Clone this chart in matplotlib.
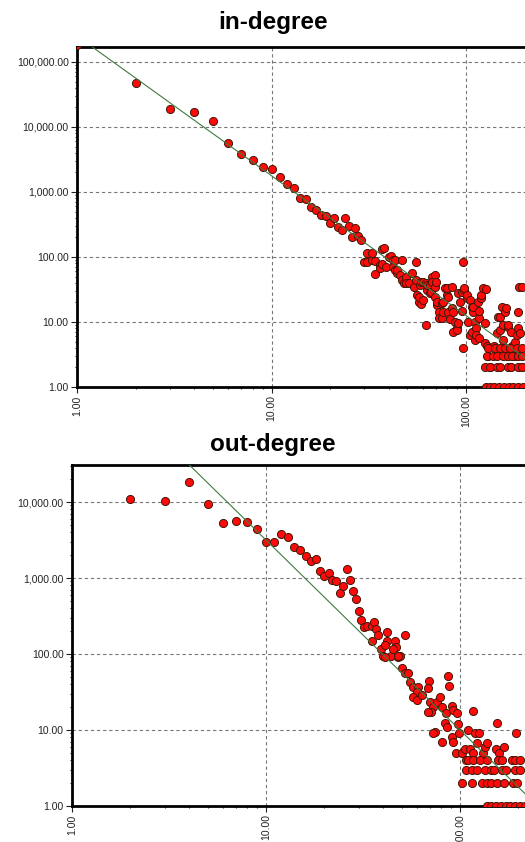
import numpy as np
import matplotlib.pyplot as plt
from matplotlib.ticker import FuncFormatter, FixedLocator, LogLocator, NullFormatter

plt.rcParams['font.family'] = ['Liberation Sans', 'DejaVu Sans']

# in-degree: degree vs number of nodes
in_deg = [1, 2, 3, 4, 5, 6, 7, 8, 9, 10, 11, 12, 13, 14, 15, 16, 17, 18, 19, 20,
          21, 22, 23, 24, 25, 26, 27, 28, 29,
          30, 31, 31, 33, 33, 34, 34, 36, 36, 37, 37, 38, 39, 40, 41, 42, 42, 43, 43, 44,
          44, 46, 47, 47, 48, 49, 49, 51, 53, 54, 55, 55, 56, 57, 57, 58, 59, 59, 60, 60,
          62, 62, 63, 63, 65, 65, 66, 67, 67, 69, 69, 69, 70, 71, 71, 73, 73, 75, 75, 76,
          76, 78, 80, 80, 81, 81, 83, 85, 85, 86, 86, 88, 90, 90, 91, 91, 93, 95, 95, 96,
          96, 98, 98, 101, 101, 102, 105, 105, 107, 107, 108, 108, 111, 111, 113, 113, 115,
          117, 117, 117, 120, 120, 122, 125, 125, 127, 128, 130, 133, 140, 144, 146, 150,
          150, 153, 155, 155, 158, 160, 162, 164, 164, 168, 171, 173, 178, 178, 182, 184,
          184, 187, 189, 193, 193,
          130, 141, 150, 159, 168, 183, 194,
          128, 137, 144, 155, 164, 173, 184, 195,
          125, 133, 144, 150, 164, 171, 184, 195,
          127, 133, 140, 148, 157, 166, 175, 185, 196]
in_cnt = [180000, 47000, 19000, 17000, 12300, 5600, 3800, 3100, 2400, 2250, 1700, 1330,
          1150, 820, 780, 590, 530, 445, 430, 330, 400, 290, 260, 400, 300, 205, 280, 210, 180,
          84, 115, 84, 90, 115, 55, 87, 75, 68, 133, 78, 137, 70, 100, 103, 90, 70, 63, 90, 57,
          63, 52, 90, 44, 40, 49, 40, 40, 57, 35, 84, 44, 26, 20, 24, 37, 41, 19, 22, 41,
          9, 40, 31, 37, 28, 37, 29, 49, 41, 24, 35, 52, 41, 18, 20, 14, 11.5, 11.5, 19.5, 20,
          14, 33, 26, 33, 14, 24, 11, 35, 16.5, 7, 14, 10, 8, 7.5, 28, 9.6, 20, 15, 29, 84,
          4, 31, 33, 23, 26, 10, 6.3, 22, 17, 7, 14, 17, 5.3, 10, 8, 6.3, 20,
          11.5, 15, 5.7, 23, 26, 33, 4.7, 9.6, 32, 4.2, 3, 2, 4.2, 6.8, 12, 7.5,
          12, 17, 5.3, 9, 14, 16.5, 3, 8.4, 9, 2, 7, 4.2, 3, 4.9, 6.3, 14,
          8, 35, 6.8, 35, 2,
          4, 4, 4, 4, 4, 4, 4,
          3, 3, 3, 3, 3, 3, 3, 3,
          2, 2, 2, 2, 2, 2, 2, 2,
          1, 1, 1, 1, 1, 1, 1, 1, 1]

# out-degree
out_deg = [2, 3, 4, 5, 6, 7, 8, 9, 10, 11, 12, 13, 14, 15, 16, 17, 18, 19, 20, 21,
           22, 23, 24, 25, 26, 27, 28, 29, 30, 31, 32, 33, 35, 36, 37, 35, 38, 39, 40, 42,
           42, 41, 44, 46, 47, 48, 49, 52, 50, 52, 54, 55, 57, 61, 60, 57, 60, 64, 69, 68,
           70, 73, 71, 68, 76, 79, 81, 87, 88, 85, 91, 92, 96, 84, 74, 73, 81, 91, 92, 86,
           95, 98, 99, 102, 106, 108, 110, 112, 116, 119, 126, 123, 116, 131, 134, 137, 156,
           153, 158, 169, 195, 45, 41, 48,
           110, 117, 127, 138, 157, 165, 185, 192, 204,
           108, 115, 123, 134, 145, 150, 165, 173, 192, 204,
           103, 115, 130, 138, 145, 155, 169, 188, 196,
           138, 145, 153, 162, 172, 182, 193, 204, 216]
out_cnt = [11000, 10400, 18500, 9300, 5300, 5650, 5500, 4400, 2970, 2950, 3800, 3500,
           2560, 2330, 1970, 1690, 1770, 1250, 1050, 1170, 935, 920, 640, 790, 1320, 940,
           680, 530, 370, 280, 225, 235, 233, 260, 215, 150, 178, 117, 95, 195, 150, 130,
           95, 150, 123, 90, 95, 178, 65, 56, 56, 43, 37, 37, 32, 27.5, 25, 29, 44, 36,
           23.5, 20, 17.5, 17.5, 23.5, 27.5, 20, 51, 38, 16.7, 20.5, 18.4, 16.8, 12.4, 9.5,
           9.1, 7, 8.1, 7, 11, 5, 12, 9, 5, 5.7, 4, 10, 5.7, 17.8, 9.1, 9.1, 6.8, 5, 5, 6,
           6.8, 12.3, 5.7, 5, 5.9, 9, 118, 92, 95,
           4, 4, 4, 4, 4, 4, 4, 4, 4,
           3, 3, 3, 3, 3, 3, 3, 3, 3, 3,
           2, 2, 2, 2, 2, 2, 2, 2, 2,
           1, 1, 1, 1, 1, 1, 1, 1, 1]

# power-law fit lines: log10(y) = a + b*log10(x)
in_fit = (5.40, -2.15)
out_fit = (6.00, -2.50)

# only the first three decades fall inside the picture
x_ticks = [1, 10, 100]
in_yticks = [1, 10, 100, 1000, 10000, 100000]
out_yticks = [1, 10, 100, 1000, 10000]

fig = plt.figure(figsize=(5.25, 8.42), dpi=100)

fmt = FuncFormatter(lambda v, p: f'{v:,.2f}')


def panel(rect, deg, cnt, fit, yticks, ymax, title, ty):
    ax = fig.add_axes(rect)
    ax.set_xscale('log')
    ax.set_yscale('log')
    ax.set_xlim(1, 1000)
    ax.set_ylim(1, ymax)
    ax.xaxis.set_major_locator(FixedLocator(x_ticks))
    ax.yaxis.set_major_locator(FixedLocator(yticks))
    ax.xaxis.set_minor_locator(LogLocator(subs=np.arange(2, 10)))
    ax.yaxis.set_minor_locator(LogLocator(subs=np.arange(2, 10)))
    ax.xaxis.set_minor_formatter(NullFormatter())
    ax.yaxis.set_minor_formatter(NullFormatter())
    ax.xaxis.set_major_formatter(fmt)
    ax.yaxis.set_major_formatter(fmt)
    ax.tick_params(which='major', length=4, width=0.8, labelsize=7.5, colors='#222',
                   pad=2)
    ax.tick_params(which='minor', length=1.5, width=0.8, color='#222')
    ax.tick_params(axis='x', labelrotation=90)
    ax.grid(True, which='major', color='#777', linestyle=(0, (3, 2.5)), linewidth=0.8)
    for s in ['left', 'top', 'bottom']:
        ax.spines[s].set_linewidth(2)
        ax.spines[s].set_color('black')
    ax.scatter(deg, cnt, s=34, c='#ff0a0a', edgecolors='#401808', linewidths=0.7,
               zorder=3)
    xs = np.array([1.0, 1000.0])
    ax.plot(xs, 10 ** (fit[0] + fit[1] * np.log10(xs)), color='#3f7a3f', lw=0.8,
            zorder=4)
    fig.text(0.52, ty, title, ha='center', va='center', fontsize=17.5,
             fontweight='bold')
    return ax


panel([77 / 525, 1 - 387 / 842, 583.5 / 525, 340 / 842], in_deg, in_cnt, in_fit,
      in_yticks, 170000, 'in-degree', 1 - 23 / 842)
panel([72 / 525, 1 - 806 / 842, 582 / 525, 341 / 842], out_deg, out_cnt, out_fit,
      out_yticks, 30700, 'out-degree', 1 - 444 / 842)

plt.savefig('out.png', dpi=100)
